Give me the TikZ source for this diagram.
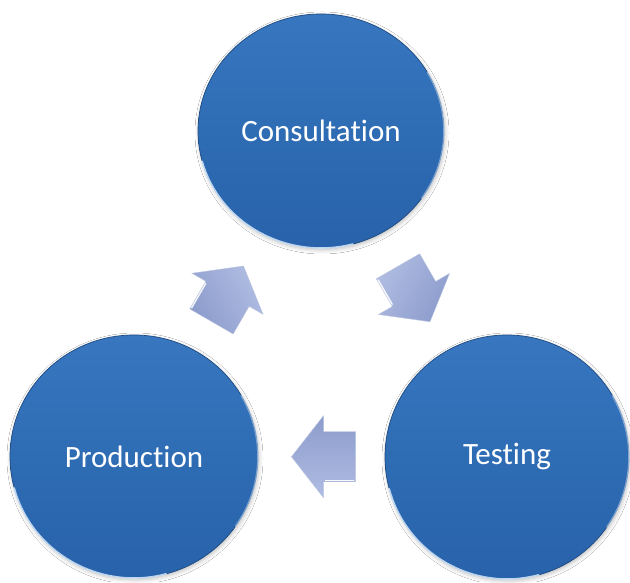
\documentclass[tikz,border=0pt]{standalone}
\usepackage{fontspec}
\setmainfont[RawFeature={-liga;-clig;-calt;-dlig}]{Carlito}
\usetikzlibrary{shapes.geometric,calc,shadows.blur}
\definecolor{ctop}{RGB}{56,118,192}
\definecolor{cmid}{RGB}{46,108,180}
\definecolor{cbot}{RGB}{40,98,170}
\definecolor{atop}{RGB}{176,188,226}
\definecolor{abot}{RGB}{140,156,204}
\definecolor{rimlight}{RGB}{215,235,255}
\tikzset{
  stagecircle/.style={ellipse, inner sep=0pt, text=white,
    top color=ctop, bottom color=cbot, middle color=cmid,
    draw=cbot!75!black, line width=0.7pt,
    blur shadow={shadow xshift=1pt, shadow yshift=-2pt, shadow blur radius=4pt, shadow opacity=25},
    font=\fontsize{31}{37}\selectfont},
  arrowbody/.style={top color=atop, bottom color=abot, shading angle=#1, draw=abot!60!white, line width=0.4pt},
  arrowshine/.style={white, line width=1.4pt, opacity=0.9, line cap=round},
  rim/.style={rimlight, line width=1.6pt, opacity=0.85, line cap=round}
}
\begin{document}
\begin{tikzpicture}[x=1pt,y=1pt]
\useasboundingbox (0,0) rectangle (630,582);
\fill[white] (0,0) rectangle (630,582);
\node[stagecircle, minimum width=246pt, minimum height=234pt] (cons) at (321,451) {\raisebox{-3pt}{Consultation}};
\node[stagecircle, minimum width=248pt, minimum height=243pt] (prod) at (134,125.5) {Production};
\node[stagecircle, minimum width=244pt, minimum height=244pt] (test) at (507,125) {Testing};
% highlights on rims
\draw[rim] ([shift={(cons.center)}]195:123 and 117) arc[start angle=195, end angle=285, x radius=123, y radius=117];
\draw[rim, opacity=0.5] ([shift={(cons.center)}]-35:123 and 117) arc[start angle=-35, end angle=30, x radius=123, y radius=117];
\draw[rim] ([shift={(prod.center)}]195:124 and 121.5) arc[start angle=195, end angle=285, x radius=124, y radius=121.5];
\draw[rim, opacity=0.5] ([shift={(prod.center)}]-35:124 and 121.5) arc[start angle=-35, end angle=30, x radius=124, y radius=121.5];
\draw[rim] ([shift={(test.center)}]195:122 and 122) arc[start angle=195, end angle=285, x radius=122, y radius=122];
\draw[rim, opacity=0.5] ([shift={(test.center)}]-35:122 and 122) arc[start angle=-35, end angle=30, x radius=122, y radius=122];
% arrows
\begin{scope}[shift={($(prod.center)!0.5!(cons.center)$)}, rotate=60]
  \path[arrowbody=-60] (-32,-25) -- (0,-25) -- (0,-41) -- (32,0) -- (0,41) -- (0,25) -- (-32,25) -- cycle;
  \draw[arrowshine] (-30,24) -- (-2,24);
\end{scope}
\begin{scope}[shift={($(cons.center)!0.5!(test.center)$)}, rotate=-60]
  \path[arrowbody=60] (-32,-25) -- (0,-25) -- (0,-41) -- (32,0) -- (0,41) -- (0,25) -- (-32,25) -- cycle;
  \draw[arrowshine] (-30,-24) -- (-2,-24);
\end{scope}
\begin{scope}[shift={($(test.center)!0.5!(prod.center)+(3,0)$)}, rotate=180]
  \path[arrowbody=180] (-32,-25) -- (0,-25) -- (0,-41) -- (32,0) -- (0,41) -- (0,25) -- (-32,25) -- cycle;
  \draw[arrowshine] (-30,24) -- (-2,24);
\end{scope}
\end{tikzpicture}
\end{document}
